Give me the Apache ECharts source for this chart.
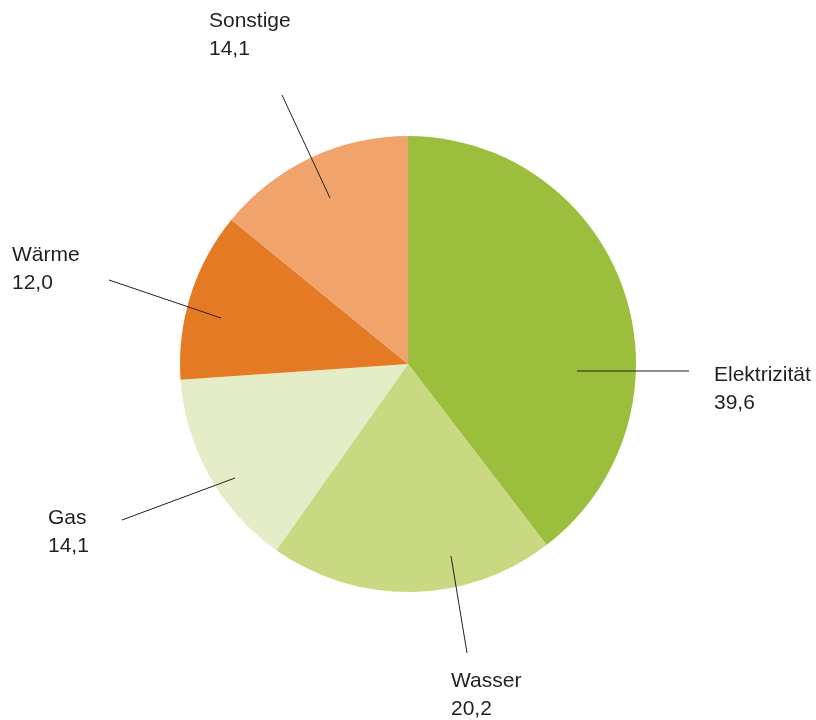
<!DOCTYPE html>
<html>
<head>
<meta charset="utf-8">
<script src="https://cdn.jsdelivr.net/npm/echarts@6/dist/echarts.min.js"></script>
<style>
  html, body { margin: 0; padding: 0; background: #fff; }
  #chart { width: 816px; height: 720px; }
</style>
</head>
<body>
<div id="chart"></div>
<script>
// Daten
var categories = ["Elektrizität", "Wasser", "Gas", "Wärme", "Sonstige"];
var values = [39.6, 20.2, 14.1, 12.0, 14.1];
var colors = ["#9bbf3c", "#c8d982", "#e5edc8", "#e57a25", "#f0a46c"];

// Position der Beschriftungen (Textanker links oben) und Führungslinien
var labelPos = [
  { x: 714, y: 361, line: [[577, 371], [689, 371]] },
  { x: 451, y: 667, line: [[451, 556], [467, 653]] },
  { x: 48, y: 504, line: [[235, 478], [122, 520]] },
  { x: 12, y: 241, line: [[221, 318], [109, 280]] },
  { x: 209, y: 7, line: [[330, 198], [282, 95]] }
];

var chartDom = echarts.init(document.getElementById("chart"));

var pieBase = {
  type: "pie",
  center: [408, 364],
  radius: [0, 228],
  startAngle: 90,
  clockwise: true,
  emphasis: { disabled: true },
  silent: true
};

var option = {
  animation: false,
  series: [
    // Kreissegmente
    Object.assign({}, pieBase, {
      z: 1,
      data: categories.map(function (name, i) {
        return { name: name, value: values[i], itemStyle: { color: colors[i] } };
      }),
      itemStyle: { borderWidth: 0 },
      label: { show: false },
      labelLine: { show: false }
    }),
    // Beschriftungen und Linien über den Segmenten
    Object.assign({}, pieBase, {
      z: 5,
      data: categories.map(function (name, i) {
        return { name: name, value: values[i] };
      }),
      itemStyle: { color: "rgba(0,0,0,0)", borderWidth: 0 },
      label: {
        show: true,
        position: "outside",
        color: "#231f20",
        fontFamily: "Liberation Sans, Arial, sans-serif",
        fontSize: 21,
        lineHeight: 28,
        align: "left",
        formatter: function (p) {
          return p.name + "\n" + p.value.toFixed(1).replace(".", ",");
        }
      },
      labelLine: {
        show: true,
        lineStyle: { color: "#231f20", width: 1 }
      },
      labelLayout: function (params) {
        var l = labelPos[params.dataIndex];
        return {
          x: l.x,
          y: l.y,
          align: "left",
          verticalAlign: "top",
          labelLinePoints: l.line
        };
      }
    })
  ]
};

chartDom.setOption(option);
</script>
</body>
</html>
